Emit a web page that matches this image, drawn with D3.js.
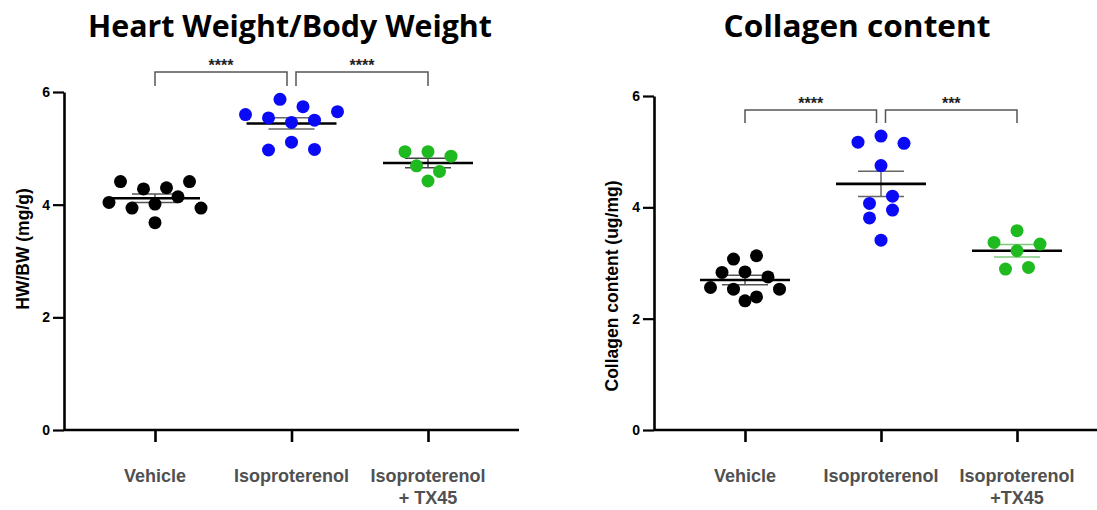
<!DOCTYPE html>
<html><head><meta charset="utf-8">
<script src="https://cdn.jsdelivr.net/npm/d3@7"></script>
<style>body{margin:0;background:#fff}</style>
</head><body><svg id="c" width="1097" height="510"></svg>
<script>
// ---------- data ----------
const groups = ["Vehicle", "Isoproterenol", "Isoproterenol + TX45"];
const leftTickLabels = [["Vehicle"], ["Isoproterenol"], ["Isoproterenol", "+ TX45"]];
const rightTickLabels = [["Vehicle"], ["Isoproterenol"], ["Isoproterenol", "+TX45"]];
const yTicks = [0, 2, 4, 6];

// Heart weight / body weight (mg/g)
const hwVehicle = [4.41, 4.28, 4.30, 4.41, 4.04, 3.94, 4.01, 4.14, 3.94, 3.68];
const hwIso     = [5.87, 5.74, 5.60, 5.54, 5.46, 5.50, 5.65, 4.97, 5.11, 4.98];
const hwIsoTx   = [4.94, 4.94, 4.86, 4.69, 4.59, 4.42];

// Collagen content (ug/mg)
const colVehicle = [3.07, 3.13, 2.83, 2.84, 2.75, 2.56, 2.53, 2.39, 2.53, 2.32];
const colIso     = [5.17, 5.28, 5.15, 4.75, 4.07, 4.20, 3.81, 3.95, 3.41];
const colIsoTx   = [3.58, 3.37, 3.22, 3.34, 2.89, 2.92];

const hwSig = ["****", "****"];
const colSig = ["****", "***"];
const groupColors = ["#000000", "#0a0af5", "#1fba1f"];

// ---------- drawing ----------
const svg = d3.select("#c");

function swarm(vals, y, cx, T, s) {
  const pts = vals.map((v, i) => ({v, i, py: y(v)}));
  const sorted = pts.slice().sort((a, b) => a.py - b.py);
  const rows = []; let cur = null;
  sorted.forEach(p => {
    if (!cur || p.py - cur.start >= T) { cur = {start: p.py, items: []}; rows.push(cur); }
    cur.items.push(p);
  });
  rows.forEach(r => {
    r.items.sort((a, b) => a.i - b.i);
    const n = r.items.length;
    r.items.forEach((p, k) => p.px = cx + (k - (n - 1) / 2) * s);
  });
  return pts;
}

function panel(cfg) {
  const g = svg.append("g");
  const y = d3.scaleLinear().domain([0, 6]).range([430, cfg.yTop]);
  const x = d3.scalePoint().domain(groups).range(cfg.catRange);

  // title
  g.append("text").attr("x", cfg.titleX).attr("y", 37)
    .attr("text-anchor", "middle")
    .attr("textLength", cfg.titleLen).attr("lengthAdjust", "spacingAndGlyphs")
    .style("font-family", "'Open Sans', sans-serif").style("font-weight", 700)
    .style("font-size", "30px").attr("fill", "#000").text(cfg.title);

  // y axis
  const ya = g.append("g").attr("transform", `translate(${cfg.axisX},0)`)
    .call(d3.axisLeft(y).tickValues(yTicks).tickSize(11).tickSizeOuter(0).tickFormat(d3.format("d")));
  ya.select(".domain").attr("stroke", "#000").attr("stroke-width", 2.6);
  ya.selectAll(".tick line").attr("stroke", "#000").attr("stroke-width", 2.2);
  ya.selectAll(".tick text").attr("x", -14).attr("fill", "#000")
    .style("font-family", "'Liberation Sans', Arial, sans-serif").style("font-weight", 700).style("font-size", "14px");

  // y title
  g.append("text").attr("transform", `translate(${cfg.yLabelX},${cfg.yLabelY}) rotate(-90)`)
    .attr("text-anchor", "middle").attr("dominant-baseline", "central")
    .style("font-family", "'Liberation Sans', Arial, sans-serif").style("font-weight", 700)
    .style("font-size", "17.5px").attr("fill", "#000").text(cfg.yLabel);

  // x axis
  g.append("line").attr("x1", cfg.axisX).attr("x2", cfg.xEnd).attr("y1", 430).attr("y2", 430)
    .attr("stroke", "#000").attr("stroke-width", 2.6);
  const xa = g.append("g").attr("transform", "translate(0,430)")
    .call(d3.axisBottom(x).tickSize(12).tickSizeOuter(0).tickFormat(""));
  xa.select(".domain").remove();
  xa.selectAll(".tick line").attr("stroke", "#000").attr("stroke-width", 2.6);

  // category labels (one text element per line)
  groups.forEach((c, i) => {
    cfg.tickLabels[i].forEach((line, k) => {
      g.append("text").attr("text-anchor", "middle")
        .attr("x", x(c)).attr("y", 482 + k * 21.5)
        .style("font-family", "'Liberation Sans', Arial, sans-serif").style("font-weight", 700)
        .style("font-size", "18px").attr("fill", "#505050").text(line);
    });
  });

  // significance brackets
  const pairs = [[0, 1, -1], [1, 2, 1]];
  pairs.forEach(([a, b, side], k) => {
    const x1 = x(groups[a]) + (side > 0 ? 4.5 : 0);
    const x2 = x(groups[b]) - (side < 0 ? 4.5 : 0);
    g.append("path")
      .attr("d", `M${x1},${cfg.bBottom}V${cfg.bTop}H${x2}V${cfg.bBottom}`)
      .attr("fill", "none").attr("stroke", "#555").attr("stroke-width", 1.5);
    g.append("text").attr("x", (x1 + x2) / 2).attr("y", cfg.bTop - 1)
      .attr("text-anchor", "middle")
      .style("font-family", "'Liberation Sans', Arial, sans-serif").style("font-weight", 700)
      .style("font-size", "16px").attr("fill", "#222").text(cfg.sigs[k]);
  });

  // series
  cfg.series.forEach((vals, i) => {
    const cx = x(groups[i]);
    const m = d3.mean(vals);
    const sem = d3.deviation(vals) / Math.sqrt(vals.length);
    const semColor = cfg.semColors[i];
    g.append("line").attr("x1", cx).attr("x2", cx).attr("y1", y(m - sem)).attr("y2", y(m + sem))
      .attr("stroke", semColor).attr("stroke-width", 1.5);
    [m - sem, m + sem].forEach(v => g.append("line")
      .attr("x1", cx - 23).attr("x2", cx + 23).attr("y1", y(v)).attr("y2", y(v))
      .attr("stroke", semColor).attr("stroke-width", 1.5));
    g.append("line").attr("x1", cx - 45).attr("x2", cx + 45).attr("y1", y(m)).attr("y2", y(m))
      .attr("stroke", "#000").attr("stroke-width", 2.6);
    const pts = swarm(vals, y, cx, 11.5, 23);
    g.selectAll(null).data(pts).enter().append("circle")
      .attr("cx", d => d.px).attr("cy", d => d.py).attr("r", 6.5)
      .attr("fill", groupColors[i]);
  });
}

panel({
  title: "Heart Weight/Body Weight", titleX: 290, titleLen: 404,
  yLabel: "HW/BW (mg/g)", yLabelX: 23, yLabelY: 249,
  yTop: 92, axisX: 64, xEnd: 519, catRange: [155, 428],
  bTop: 72, bBottom: 86, sigs: hwSig,
  tickLabels: leftTickLabels,
  series: [hwVehicle, hwIso, hwIsoTx],
  semColors: ["#555", "#666", "#444"]
});
panel({
  title: "Collagen content", titleX: 857, titleLen: 267,
  yLabel: "Collagen content (ug/mg)", yLabelX: 612, yLabelY: 286,
  yTop: 96, axisX: 654, xEnd: 1097, catRange: [745, 1017],
  bTop: 110, bBottom: 123, sigs: colSig,
  tickLabels: rightTickLabels,
  series: [colVehicle, colIso, colIsoTx],
  semColors: ["#555", "#666", "#7cc87c"]
});
</script>
</body></html>
